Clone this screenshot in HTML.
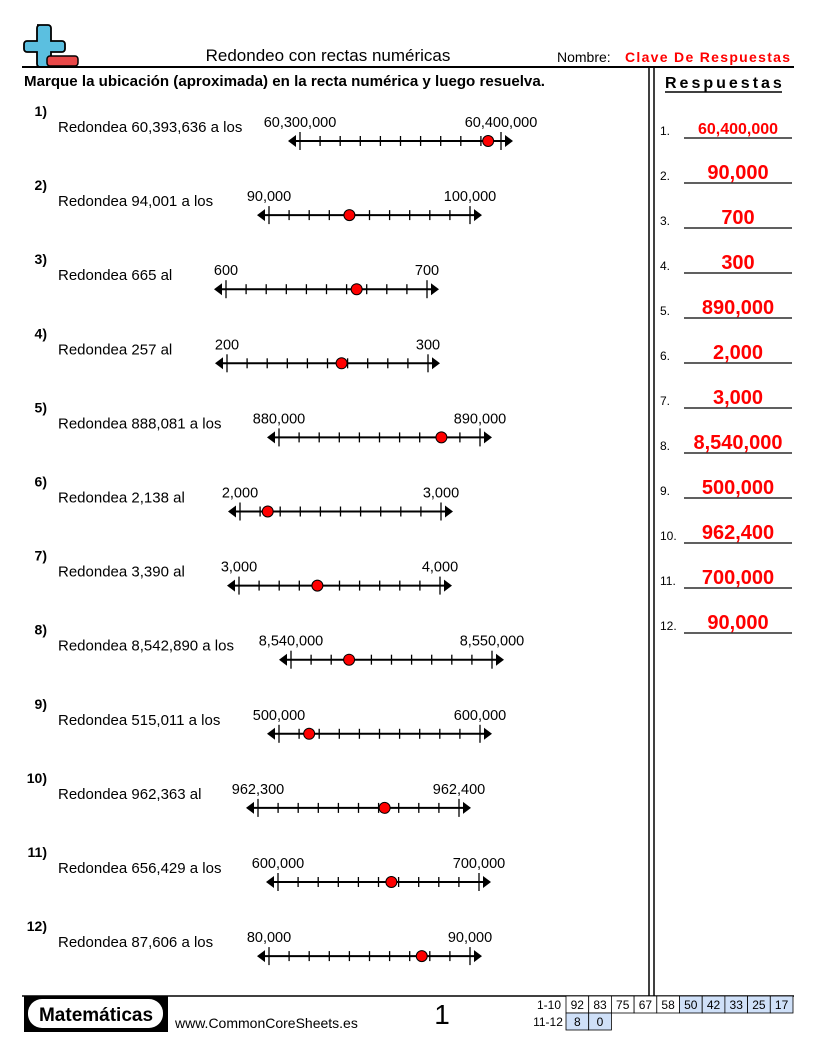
<!DOCTYPE html>
<html><head><meta charset="utf-8"><style>
body{margin:0;background:#fff}
svg{display:block;font-family:"Liberation Sans",sans-serif}
</style></head><body>
<svg width="816" height="1056" viewBox="0 0 816 1056" xmlns="http://www.w3.org/2000/svg">
<!-- logo -->
<path d="M37 25 h11 a3 3 0 0 1 3 3 v13 h11 a3 3 0 0 1 3 3 v5 a3 3 0 0 1 -3 3 h-11 v12 a3 3 0 0 1 -3 3 h-8 a3 3 0 0 1 -3 -3 v-12 h-10 a3 3 0 0 1 -3 -3 v-5 a3 3 0 0 1 3 -3 h10 v-13 a3 3 0 0 1 3 -3z" fill="#5bbfe0" stroke="#000" stroke-width="1.8"/>
<rect x="47" y="56" width="31" height="10" rx="3" fill="#e84848" stroke="#000" stroke-width="1.5"/>
<text x="328" y="61" font-size="17" text-anchor="middle">Redondeo con rectas numéricas</text>
<text x="557" y="62" font-size="14">Nombre:</text>
<text x="625" y="62" font-size="14" font-weight="bold" fill="#f00" letter-spacing="1.3">Clave De Respuestas</text>
<line x1="22" y1="67" x2="794" y2="67" stroke="#000" stroke-width="2"/>
<line x1="649" y1="67" x2="649" y2="996" stroke="#000" stroke-width="1.5"/>
<line x1="654" y1="67" x2="654" y2="996" stroke="#000" stroke-width="1.5"/>
<text x="24" y="86" font-size="15.1" font-weight="bold">Marque la ubicación (aproximada) en la recta numérica y luego resuelva.</text>
<text x="665" y="88" font-size="16" font-weight="bold" letter-spacing="3">Respuestas</text>
<line x1="665" y1="92" x2="782" y2="92" stroke="#000" stroke-width="1.5"/>
<g id="rows"></g>
<!-- footer -->
<line x1="22" y1="996" x2="794" y2="996" stroke="#000" stroke-width="1.5"/>
<rect x="24" y="996" width="144" height="36" fill="#000"/>
<rect x="28" y="999" width="135" height="29" rx="14" fill="#fff"/>
<text x="96" y="1021" font-size="19" font-weight="bold" text-anchor="middle">Matemáticas</text>
<text x="175" y="1028" font-size="14">www.CommonCoreSheets.es</text>
<text x="442" y="1024" font-size="28" text-anchor="middle">1</text>
<g font-size="12" text-anchor="middle" id="tbl"></g>
</svg>
<script>
const NS="http://www.w3.org/2000/svg";
const rows=document.getElementById('rows');
function el(t,a,txt,p){const e=document.createElementNS(NS,t);for(const k in a)e.setAttribute(k,a[k]);if(txt!=null)e.textContent=txt;(p||rows).appendChild(e);return e;}
const data=[
["Redondea 60,393,636 a los","60,300,000","60,400,000",300,0.936],
["Redondea 94,001 a los","90,000","100,000",269,0.400],
["Redondea 665 al","600","700",226,0.65],
["Redondea 257 al","200","300",227,0.57],
["Redondea 888,081 a los","880,000","890,000",279,0.808],
["Redondea 2,138 al","2,000","3,000",240,0.138],
["Redondea 3,390 al","3,000","4,000",239,0.39],
["Redondea 8,542,890 a los","8,540,000","8,550,000",291,0.289],
["Redondea 515,011 a los","500,000","600,000",279,0.15],
["Redondea 962,363 al","962,300","962,400",258,0.63],
["Redondea 656,429 a los","600,000","700,000",278,0.564],
["Redondea 87,606 a los","80,000","90,000",269,0.76]];
const ans=["60,400,000","90,000","700","300","890,000","2,000","3,000","8,540,000","500,000","962,400","700,000","90,000"];
data.forEach((d,i)=>{
 const Y=141+i*74.1;
 el('text',{x:47,y:Y-25,'font-size':14,'font-weight':'bold','text-anchor':'end'},(i+1)+')');
 el('text',{x:58,y:Y-9,'font-size':15},d[0]);
 const L=d[3],R=L+201;
 el('text',{x:L,y:Y-14,'font-size':14.5,'text-anchor':'middle'},d[1]);
 el('text',{x:R,y:Y-14,'font-size':14.5,'text-anchor':'middle'},d[2]);
 el('line',{x1:L-9,y1:Y,x2:R+9,y2:Y,stroke:'#000','stroke-width':2});
 el('path',{d:`M${L-12} ${Y} l8 -6 v12z M${R+12} ${Y} l-8 -6 v12z`,fill:'#000'});
 for(let k=0;k<=10;k++){const x=L+k*20.1;const h=(k==0||k==10)?9:5;
  el('line',{x1:x,y1:Y-h,x2:x,y2:Y+h,stroke:'#000','stroke-width':1.3});}
 el('circle',{cx:L+d[4]*201,cy:Y,r:5.5,fill:'#f00',stroke:'#000','stroke-width':1});
 const ay=138+i*45;
 el('text',{x:660,y:ay-3,'font-size':12},(i+1)+'.');
 el('line',{x1:684,y1:ay,x2:792,y2:ay,stroke:'#000','stroke-width':1.3});
 el('text',{x:738,y:ay-4,'font-size':i==0?16:20,'font-weight':'bold',fill:'#f00','text-anchor':'middle'},ans[i]);
});
const tb=document.getElementById('tbl');
const r1=[92,83,75,67,58,50,42,33,25,17];
el('text',{x:549,y:1009},'1-10',tb);el('text',{x:548,y:1026},'11-12',tb);
r1.forEach((v,k)=>{const x=566+k*22.7;el('rect',{x:x,y:996,width:22.7,height:17,fill:k>=5?'#cfe0f8':'#fff',stroke:'#000','stroke-width':0.8},null,tb);el('text',{x:x+11.3,y:1009},v,tb);});
[8,0].forEach((v,k)=>{const x=566+k*22.7;el('rect',{x:x,y:1013,width:22.7,height:17,fill:'#cfe0f8',stroke:'#000','stroke-width':0.8},null,tb);el('text',{x:x+11.3,y:1026},v,tb);});
</script>
</body></html>
